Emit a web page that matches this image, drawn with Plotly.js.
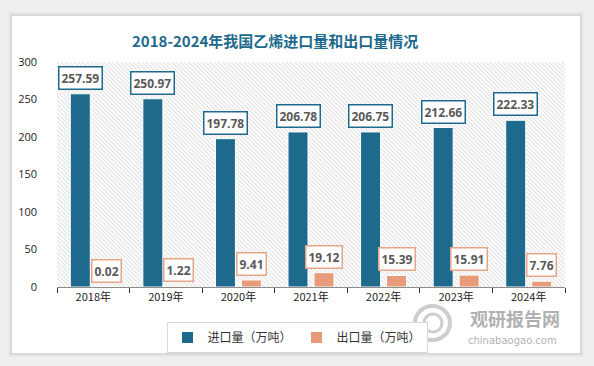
<!DOCTYPE html>
<html><head><meta charset="utf-8">
<script src="https://cdn.plot.ly/plotly-3.0.1.min.js"></script>
<style>html,body{margin:0;padding:0;background:#efefef;}#chart{width:594px;height:366px;}</style>
</head><body><div id="chart"></div>
<script>
const years = ['2018年','2019年','2020年','2021年','2022年','2023年','2024年'];
const importVals = [257.59,250.97,197.78,206.78,206.75,212.66,222.33];
const exportVals = [0.02,1.22,9.41,19.12,15.39,15.91,7.76];
const importName = '进口量（万吨）';
const exportName = '出口量（万吨）';
const yTicks = [0,50,100,150,200,250,300];
const yMax = 300;

const cImp = '#1d6a8d', cExp = '#e89b7b', cExpBorder = '#e8a587';
const L = 57, R = 565, T = 62, B = 287, W = 594, H = 366;
const px = v => (v - L) / (R - L);
const py = v => (B - v) / (B - T);

const hatch = {
  type: 'bar', x: [0.5], y: [yMax], width: [1], xaxis: 'x', yaxis: 'y',
  marker: {color: 'white', line: {width: 0},
    pattern: {shape: '\\', fgcolor: '#dadada', bgcolor: '#ffffff', size: 3, solidity: 0.3}},
  hoverinfo: 'skip', showlegend: false
};
const tImp = {type: 'bar', name: importName, x: years, y: importVals, xaxis: 'x2', yaxis: 'y',
  marker: {color: cImp, line: {color: '#ffffff', width: 1}}};
const tExp = {type: 'bar', name: exportName, x: years, y: exportVals, xaxis: 'x2', yaxis: 'y',
  marker: {color: cExp, line: {color: '#ffffff', width: 1}}};

const ann = [];
const lab = (vals, shift, border) => vals.forEach((v, i) => ann.push({
  xref: 'x2', yref: 'y', x: years[i], y: v, xshift: shift, yshift: 4,
  yanchor: 'bottom', xanchor: 'center', showarrow: false,
  text: '<b>' + v.toFixed(2) + '</b>', font: {family: 'Open Sans', size: 12, color: '#595959'},
  bgcolor: '#ffffff', bordercolor: border, borderwidth: 1.5, borderpad: 2
}));
lab(importVals, -13, cImp);
lab(exportVals, 13, cExpBorder);

ann.push({xref: 'paper', yref: 'paper', x: px(275), y: py(40), xanchor: 'center', yanchor: 'middle',
  showarrow: false, text: '<b>2018-2024年我国乙烯进口量和出口量情况</b>',
  font: {family: 'Noto Sans CJK SC', size: 15, color: '#1d6a8d'}});
ann.push({xref: 'paper', yref: 'paper', x: px(515), y: py(318), xanchor: 'center', yanchor: 'middle',
  showarrow: false, text: '<b>观研报告网</b>',
  font: {family: 'Noto Sans CJK SC', size: 18, color: 'rgba(150,150,150,0.75)'}});
ann.push({xref: 'paper', yref: 'paper', x: px(512), y: py(340), xanchor: 'center', yanchor: 'middle',
  showarrow: false, text: 'chinabaogao.com',
  font: {family: 'DejaVu Sans', size: 10, color: 'rgba(150,150,150,0.75)'}});

const shapes = [];
for (let k = 4; k >= 1; k--) {
  shapes.push({type: 'rect', xref: 'paper', yref: 'paper', layer: 'below',
    x0: px(12 - k), x1: px(580 + k), y0: py(353 + k), y1: py(16 - k),
    fillcolor: 'rgba(0,0,0,0.025)', line: {width: 0}});
}
shapes.push({type: 'rect', xref: 'paper', yref: 'paper', layer: 'below',
  x0: px(12), x1: px(580), y0: py(353), y1: py(16), fillcolor: '#ffffff', line: {width: 0}});
// watermark logo
shapes.push({type: 'circle', xref: 'paper', yref: 'paper', layer: 'above',
  x0: px(415), x1: px(450), y0: py(340), y1: py(306), fillcolor: 'rgba(0,0,0,0)',
  line: {color: 'rgba(170,175,175,0.6)', width: 4}});
shapes.push({type: 'circle', xref: 'paper', yref: 'paper', layer: 'above',
  x0: px(424), x1: px(442), y0: py(332), y1: py(314), fillcolor: 'rgba(0,0,0,0)',
  line: {color: 'rgba(170,175,175,0.6)', width: 3}});

const layout = {
  width: W, height: H, margin: {l: L, r: W - R, t: T, b: H - B},
  paper_bgcolor: '#efefef', plot_bgcolor: 'rgba(0,0,0,0)',
  barmode: 'group', bargap: 0.284, bargroupgap: 0.23,
  showlegend: true,
  legend: {orientation: 'h', x: px(297), xanchor: 'center', y: py(322), yanchor: 'top',
    bordercolor: '#d9d9d9', borderwidth: 1, bgcolor: '#ffffff',
    font: {family: 'Noto Sans CJK SC', size: 12, color: '#333333'}, itemwidth: 30,
    tracegroupgap: 0},
  xaxis: {range: [0, 1], visible: false, fixedrange: true},
  xaxis2: {overlaying: 'x', side: 'bottom', type: 'category', showline: true, linecolor: '#8c8c8c', linewidth: 1,
    ticks: 'outside', tickson: 'boundaries', ticklen: 5, tickcolor: '#333333',
    tickfont: {family: 'Noto Sans CJK SC', size: 11, color: '#222222'}, showgrid: false},
  yaxis: {range: [0, yMax], tickvals: yTicks, showgrid: false, zeroline: false, showline: false,
    ticks: '', ticklabelstandoff: 19,
    tickfont: {family: 'Open Sans', size: 11, color: '#222222'}},
  annotations: ann, shapes: shapes
};
Plotly.newPlot('chart', [hatch, tImp, tExp], layout, {displayModeBar: false, staticPlot: true});
</script></body></html>
